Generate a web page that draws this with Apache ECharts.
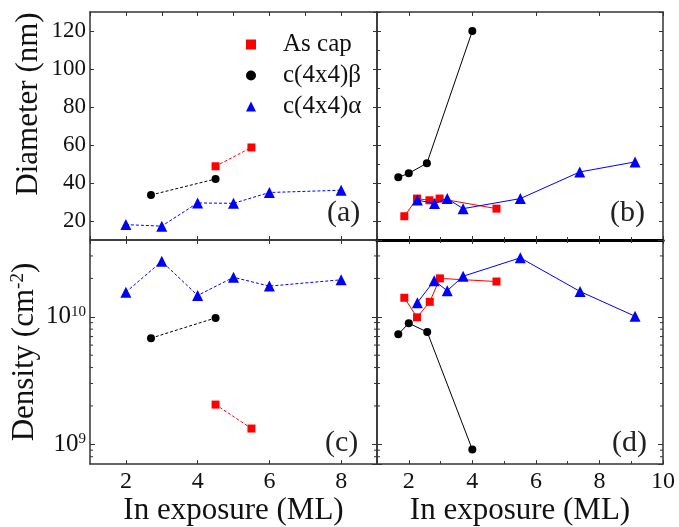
<!DOCTYPE html>
<html><head><meta charset="utf-8">
<script src="https://cdn.jsdelivr.net/npm/echarts@6/dist/echarts.min.js"></script>
<style>html,body{margin:0;padding:0;background:#fff}#c{width:679px;height:527px}</style>
</head><body><div id="c"></div>
<script>
const FONT = "'Liberation Serif', 'Times New Roman', Tinos, 'Nimbus Roman', 'DejaVu Serif', 'Noto Serif', serif";

// ---- data ----
const seriesNames = ['As cap', 'c(4x4)β', 'c(4x4)α'];
// (a) diameter, first set
const xA_cap = [4.5, 5.5];
const yA_cap = [48.8, 58.7];
const xA_beta = [2.7, 4.5];
const yA_beta = [33.7, 42.1];
const xA_alpha = [2, 3, 4, 5, 6, 8];
const yA_alpha = [18.1, 17.3, 29.5, 29.3, 35.0, 36.2];
// (b) diameter, second set
const xB_cap = [1.86, 2.26, 2.65, 2.97, 4.76];
const yB_cap = [22.5, 31.8, 30.9, 31.8, 26.5];
const xB_beta = [1.67, 2.0, 2.57, 4.0];
const yB_beta = [43.0, 45.1, 50.4, 120];
const xB_alpha = [2.27, 2.81, 3.21, 3.71, 5.51, 7.38, 9.12];
const yB_alpha = [31.0, 29.2, 31.8, 26.5, 31.8, 45.8, 51.1];
// (c) density, first set
const xC_cap = [4.5, 5.5];
const yC_cap = [2.05e9, 1.33e9];
const xC_beta = [2.7, 4.5];
const yC_beta = [6.8e9, 9.8e9];
const xC_alpha = [2, 3, 4, 5, 6, 8];
const yC_alpha = [1.56e10, 2.72e10, 1.47e10, 2.04e10, 1.74e10, 1.95e10];
// (d) density, second set
const xD_cap = [1.86, 2.26, 2.66, 2.98, 4.76];
const yD_cap = [1.41e10, 9.9e9, 1.31e10, 2.0e10, 1.89e10];
const xD_beta = [1.67, 2.0, 2.58, 4.0];
const yD_beta = [7.3e9, 8.9e9, 7.6e9, 9.1e8];
const xD_alpha = [2.27, 2.80, 3.21, 3.71, 5.51, 7.39, 9.12];
const yD_alpha = [1.29e10, 1.92e10, 1.6e10, 2.08e10, 2.9e10, 1.58e10, 1.01e10];

const panelLabels = ['(a)', '(b)', '(c)', '(d)'];
const diamRange = [10, 130];
const densRange = [7e8, 4e10];
const xRangeLeft = [1, 9];
const xRangeRight = [1, 10];
const logMinorTicks = [8e8, 9e8, 2e9, 3e9, 4e9, 5e9, 6e9, 7e9, 8e9, 9e9, 2e10, 3e10];

// ---- styles ----
const RED = '#ff0000', BLACK = '#000000', BLUE = '#0000ff';
const FRAME = '#333333';
const colors = [RED, BLACK, BLUE];
const symbols = ['rect', 'circle', 'triangle'];
const symSizes = [8, 8, 11];

function zip(xs, ys) { return xs.map((x, i) => [x, ys[i]]); }

const grids = [
  { left: 90, top: 12, width: 287, height: 228 },
  { left: 377, top: 12, width: 286, height: 228 },
  { left: 90, top: 240, width: 287, height: 227 },
  { left: 377, top: 240, width: 286, height: 227 }
];

function xAxisDef(gi, pos, range, o) {
  return {
    type: 'value', gridIndex: gi, position: pos, min: range[0], max: range[1], splitNumber: 4,
    splitLine: { show: false },
    axisLine: { show: true, onZero: false, lineStyle: { color: o.lineColor || FRAME, width: o.lineWidth || 1.5 } },
    axisTick: { show: true, inside: true, length: 4, lineStyle: { color: FRAME, width: 1 } },
    minorTick: { show: !!o.minor, splitNumber: 2, length: o.minorLen || 3, lineStyle: { color: FRAME, width: 1 } },
    axisLabel: {
      show: !!o.labels, margin: 6, fontFamily: FONT, fontSize: 24, color: '#111',
      showMinLabel: false, showMaxLabel: !!o.showMax,
      formatter: v => (Math.abs(v - Math.round(v)) < 1e-9 && v % 2 === 0) ? String(v) : ''
    },
    name: o.name || '', nameLocation: 'middle', nameGap: 24,
    nameTextStyle: { fontFamily: FONT, fontSize: 31, color: '#111' }
  };
}

function diamAxis(gi, pos, o) {
  return {
    type: 'value', gridIndex: gi, position: pos, min: diamRange[0], max: diamRange[1], splitNumber: 6,
    splitLine: { show: false },
    axisLine: { show: true, onZero: false, lineStyle: { color: FRAME, width: 1.5 } },
    axisTick: { show: true, inside: true, length: 4, lineStyle: { color: FRAME, width: 1 } },
    minorTick: { show: !!o.minor, splitNumber: 2, length: 3, lineStyle: { color: FRAME, width: 1 } },
    axisLabel: {
      show: !!o.labels, margin: 4, fontFamily: FONT, fontSize: 23, color: '#111',
      showMinLabel: false, showMaxLabel: false,
      formatter: v => (v % 20 === 0) ? String(v) : ''
    },
    name: o.name || '', nameLocation: 'middle', nameGap: 46,
    nameTextStyle: { fontFamily: FONT, fontSize: 31, color: '#111', padding: [0, 0, 0, 44] }
  };
}

function densAxis(gi, pos, o) {
  return {
    type: 'log', logBase: 10, gridIndex: gi, position: pos, min: densRange[0], max: densRange[1],
    splitLine: { show: false },
    axisLine: { show: true, onZero: false, lineStyle: { color: FRAME, width: 1.5 } },
    axisTick: { show: true, inside: true, length: 5, lineStyle: { color: FRAME, width: 1 } },
    axisLabel: {
      show: !!o.labels, margin: 4, color: '#111', showMinLabel: false, showMaxLabel: false,
      formatter: function (v) {
        const l = Math.log10(v), e = Math.round(l);
        if (Math.abs(l - e) > 1e-6) return '';
        return '{b|10}{s|' + e + '}';
      },
      rich: {
        b: { fontFamily: FONT, fontSize: 25, color: '#111' },
        s: { fontFamily: FONT, fontSize: 15, color: '#111', verticalAlign: 'top' }
      }
    },
    name: o.name || '', nameLocation: 'middle', nameGap: 50,
    nameTextStyle: {
      fontFamily: FONT, fontSize: 31, color: '#111',
      rich: { s: { fontFamily: FONT, fontSize: 19, color: '#111', verticalAlign: 'top' } }
    }
  };
}

const xAxes = [
  xAxisDef(0, 'bottom', xRangeLeft, {}),
  xAxisDef(0, 'top', xRangeLeft, { minor: true, minorLen: 4 }),
  xAxisDef(1, 'bottom', xRangeRight, { minor: true, lineColor: '#000', lineWidth: 3 }),
  xAxisDef(1, 'top', xRangeRight, {}),
  xAxisDef(2, 'bottom', xRangeLeft, { labels: true, name: 'In exposure (ML)' }),
  xAxisDef(2, 'top', xRangeLeft, {}),
  xAxisDef(3, 'bottom', xRangeRight, { labels: true, minor: true, showMax: true, name: 'In exposure (ML)' }),
  xAxisDef(3, 'top', xRangeRight, { minor: true, lineColor: '#000', lineWidth: 3 })
];

const yAxes = [
  diamAxis(0, 'left', { labels: true, name: 'Diameter (nm)' }),
  diamAxis(0, 'right', {}),
  diamAxis(1, 'left', { minor: true }),
  diamAxis(1, 'right', { minor: true }),
  densAxis(2, 'left', { labels: true, name: 'Density (cm{s|-2})' }),
  densAxis(2, 'right', {}),
  densAxis(3, 'left', {}),
  densAxis(3, 'right', {})
];

const panelData = [
  [[xA_cap, yA_cap], [xA_beta, yA_beta], [xA_alpha, yA_alpha]],
  [[xB_cap, yB_cap], [xB_beta, yB_beta], [xB_alpha, yB_alpha]],
  [[xC_cap, yC_cap], [xC_beta, yC_beta], [xC_alpha, yC_alpha]],
  [[xD_cap, yD_cap], [xD_beta, yD_beta], [xD_alpha, yD_alpha]]
];

const series = [];
panelData.forEach((sets, gi) => {
  const dashed = (gi === 0 || gi === 2);
  sets.forEach((xy, si) => {
    series.push({
      type: 'line', name: seriesNames[si],
      xAxisIndex: gi * 2, yAxisIndex: gi * 2,
      data: zip(xy[0], xy[1]),
      symbol: symbols[si], symbolSize: symSizes[si], showSymbol: true,
      itemStyle: { color: colors[si] },
      lineStyle: { color: colors[si], width: 1, type: dashed ? [3, 2] : 'solid' },
      z: 3 + si
    });
  });
});

// log-axis minor ticks on panels (c) and (d)
[2, 3].forEach(gi => {
  const xr = gi === 2 ? xRangeLeft : xRangeRight;
  series.push({
    type: 'custom', name: 'minor' + gi, silent: true,
    xAxisIndex: gi * 2, yAxisIndex: gi * 2,
    data: logMinorTicks.map(v => [xr[0], v]),
    renderItem: function (params, api) {
      const v = api.value(1);
      const p0 = api.coord([xr[0], v]);
      const p1 = api.coord([xr[1], v]);
      return {
        type: 'group', children: [
          { type: 'line', shape: { x1: p0[0], y1: p0[1], x2: p0[0] + 3, y2: p0[1] }, style: { stroke: FRAME, lineWidth: 1 } },
          { type: 'line', shape: { x1: p1[0] - 3, y1: p1[1], x2: p1[0], y2: p1[1] }, style: { stroke: FRAME, lineWidth: 1 } }
        ]
      };
    }
  });
});

const labelPos = [[327, 198], [610, 198], [325, 428], [612, 428]];

const option = {
  animation: false,
  backgroundColor: '#fff',
  grid: grids,
  xAxis: xAxes,
  yAxis: yAxes,
  legend: {
    orient: 'vertical', left: 241, top: 27, itemWidth: 10, itemHeight: 10, itemGap: 6,
    selectedMode: false,
    data: [
      { name: seriesNames[0], icon: 'rect' },
      { name: seriesNames[1], icon: 'circle' },
      { name: seriesNames[2], icon: 'triangle' }
    ],
    textStyle: { fontFamily: FONT, fontSize: 25, color: '#111', padding: [0, 0, 0, 22] }
  },
  graphic: panelLabels.map((t, i) => ({
    type: 'text', left: labelPos[i][0], top: labelPos[i][1], z: 10,
    style: { text: t, fontSize: 30, fontFamily: FONT, fill: '#222' }
  })),
  series: series
};

const chart = echarts.init(document.getElementById('c'), null, { renderer: 'canvas' });
chart.setOption(option);
</script>
</body></html>
